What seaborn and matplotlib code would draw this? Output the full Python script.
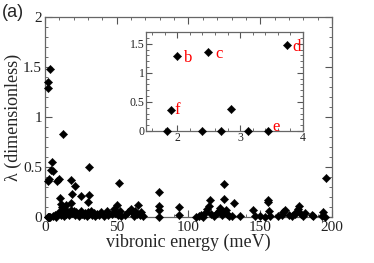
import numpy as np
import pandas as pd
import seaborn as sns
import matplotlib.pyplot as plt
from matplotlib.ticker import MultipleLocator, FuncFormatter

# vibronic energies (meV) and coupling lambda
energy = [1.83, 1.90, 2.00, 2.39, 2.49, 2.70, 2.85, 3.12, 3.45, 3.75,
          4.6, 5.2, 5.6, 8.5, 9.5, 12.5, 10.5, 11.0, 12.0, 13.0, 14.5,
          18.5, 20.7, 18.8, 18.3, 25.3, 30.4, 30.0, 31.0,
          6, 7, 8, 9, 10, 11, 12, 13, 14, 15, 16, 17, 18, 19, 20, 21, 22, 23,
          24, 25, 26, 27, 28, 29, 30, 31, 32, 33, 34, 35, 36, 38, 39, 41, 43,
          44, 47, 48, 49, 50, 51, 51.6, 52, 53,
          56, 58, 60, 61.5, 62, 63, 64, 65, 66, 67, 68,
          79.7, 79.7, 79.7, 79.7, 93.6, 93.6,
          105, 107, 109, 110, 112, 113, 114, 115, 116, 118, 120, 121, 122, 123,
          124, 124.7, 125, 126, 127, 128, 131.7, 130, 136,
          145, 146, 150, 153, 155.6, 155.6, 156, 157, 162, 165, 166, 167, 170,
          172, 174, 175, 176.5, 177, 178, 180, 181, 186, 187, 193, 194, 195, 195.8]
lam = [0.0, 0.36, 1.29, 0.0, 1.35, 0.0, 0.38, 0.0, 0.0, 1.48,
       0.47, 0.55, 0.46, 0.36, 0.38, 0.83, 0.19, 0.13, 0.10, 0.08, 0.12,
       0.37, 0.31, 0.23, 0.14, 0.21, 0.22, 0.15, 0.50,
       0.01, 0.02, 0.0, 0.03, 0.05, 0.02, 0.04, 0.01, 0.06, 0.03, 0.05, 0.02, 0.07, 0.04, 0.06, 0.02, 0.05, 0.03,
       0.01, 0.06, 0.03, 0.02, 0.04, 0.01, 0.05, 0.03, 0.06, 0.02, 0.04, 0.01, 0.03, 0.02, 0.05, 0.01, 0.06,
       0.02, 0.03, 0.08, 0.04, 0.12, 0.02, 0.34, 0.06, 0.01,
       0.02, 0.05, 0.08, 0.04, 0.01, 0.06, 0.03, 0.12, 0.02, 0.05, 0.01,
       0.25, 0.11, 0.07, 0.0, 0.10, 0.02,
       0.0, 0.01, 0.02, 0.0, 0.05, 0.08, 0.11, 0.17, 0.03, 0.01, 0.04, 0.06, 0.09, 0.02,
       0.05, 0.18, 0.33, 0.07, 0.03, 0.01, 0.14, 0.01, 0.01,
       0.07, 0.01, 0.01, 0.0, 0.17, 0.15, 0.06, 0.01, 0.01, 0.02, 0.05, 0.07, 0.02,
       0.01, 0.03, 0.05, 0.08, 0.11, 0.03, 0.01, 0.04, 0.02, 0.01, 0.01, 0.05, 0.0, 0.39]

# labelled modes shown in the inset
mode_names = ['b', 'c', 'd', 'e', 'f']
mode_x = [2.10, 2.60, 3.83, 3.52, 1.96]
mode_y = [1.25, 1.33, 1.45, 0.06, 0.36]

df = pd.DataFrame({'energy': energy, 'lam': lam})
low = df[(df['energy'] >= 1.5) & (df['energy'] <= 4)]

sns.set_style('ticks')
plt.rcParams['font.family'] = ['Liberation Serif', 'DejaVu Serif']

fig = plt.figure(figsize=(3.74, 2.63), dpi=100)
ax = fig.add_axes([0.120, 0.175, 0.768, 0.760])
sns.scatterplot(data=df, x='energy', y='lam', marker='D', s=18, color='black',
                edgecolor='black', linewidth=0.3, ax=ax, clip_on=False, zorder=5)
ax.set_xlim(0, 200)
ax.set_ylim(0, 2)
ax.xaxis.set_major_locator(MultipleLocator(50))
ax.xaxis.set_minor_locator(MultipleLocator(10))
ax.yaxis.set_major_locator(MultipleLocator(0.5))
ax.yaxis.set_minor_locator(MultipleLocator(0.1))
fmt = FuncFormatter(lambda v, p: ('%g' % v))
ax.yaxis.set_major_formatter(fmt)
ax.set_xlabel('vibronic energy (meV)', fontsize=13, labelpad=0)
ax.set_ylabel('λ (dimensionless)', fontsize=13, labelpad=1)
ax.tick_params(which='both', direction='in', top=True, right=True, colors='#555555',
               labelcolor='#222222', labelsize=11)
ax.tick_params(axis='x', pad=3)
ax.tick_params(axis='y', pad=2)
ax.tick_params(which='major', length=5)
ax.tick_params(which='minor', length=2.5)
for s in ax.spines.values():
    s.set_color('#666666')
    s.set_linewidth(0.9)

# inset
axi = fig.add_axes([0.390, 0.502, 0.420, 0.376])
sns.scatterplot(data=low, x='energy', y='lam', marker='D', s=18, color='black',
                edgecolor='black', linewidth=0.3, ax=axi, clip_on=False, zorder=5)
axi.set_xlim(1.5, 4)
axi.set_ylim(0, 1.7)
axi.xaxis.set_major_locator(MultipleLocator(1))
axi.xaxis.set_minor_locator(MultipleLocator(0.2))
axi.yaxis.set_major_locator(MultipleLocator(0.5))
axi.yaxis.set_minor_locator(MultipleLocator(0.1))
axi.yaxis.set_major_formatter(fmt)
axi.set_xlabel('')
axi.set_ylabel('')
axi.tick_params(which='both', direction='in', top=True, right=True, colors='#555555',
                labelcolor='#222222', labelsize=8.5, pad=1)
axi.tick_params(which='major', length=4)
axi.tick_params(which='minor', length=2)
for s in axi.spines.values():
    s.set_color('#666666')
    s.set_linewidth(0.9)
for name, x, y in zip(mode_names, mode_x, mode_y):
    axi.text(x, y, name, color='red', fontsize=12, va='center', ha='left')

fig.text(0.005, 0.985, '(a)', fontsize=13, va='top', ha='left',
         family=['Liberation Sans', 'DejaVu Sans'])

plt.savefig('out.png', dpi=100)
